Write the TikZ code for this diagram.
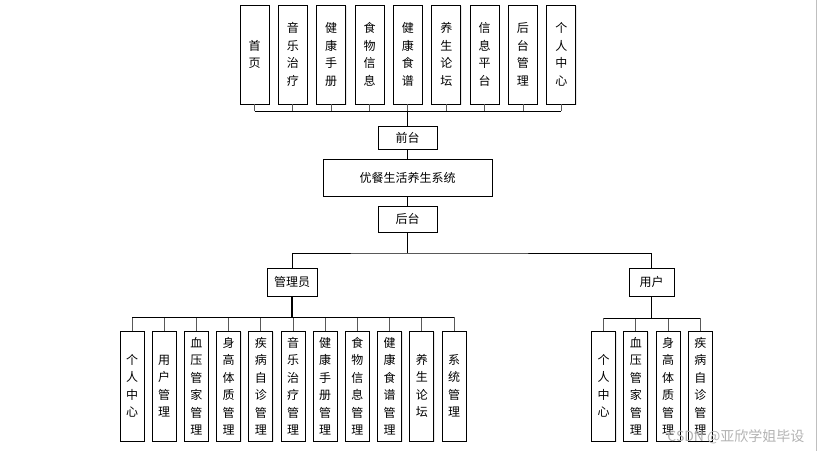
\documentclass[tikz,border=0pt]{standalone}
\usepackage{fontspec}
\setmainfont{Noto Sans CJK SC}
\usetikzlibrary{shadows}
\tikzset{
  box/.style={draw, fill=white, line width=0.8pt, inner sep=0pt, align=center,
    font=\fontsize{12}{17.5}\selectfont,
    drop shadow={shadow xshift=1pt, shadow yshift=-1pt, fill=black!18}},
  tallbox/.style={box, minimum width=29pt, minimum height=99pt},
  subbox/.style={box, minimum width=24pt, minimum height=110pt},
  branch/.style={draw=black!65, line width=0.9pt},
  bus/.style={line width=0.9pt},
  trunk/.style={line width=1.6pt},
}
\begin{document}
\begin{tikzpicture}[x=1pt,y=-1pt]
  %%%%% FRAME %%%%%
  \useasboundingbox (0,0) rectangle (818,451);
  \draw[black!25, line width=0.8pt] (816,0) -- (816,451);

  %%%%% FRONT %%%%%
  \foreach \lbl [count=\i from 0] in {首\\页, 音\\乐\\治\\疗, 健\\康\\手\\册, 食\\物\\信\\息,
      健\\康\\食\\谱, 养\\生\\论\\坛, 信\\息\\平\\台, 后\\台\\管\\理, 个\\人\\中\\心}
    \node[tallbox] (t\i) at (254.5+38.35*\i, 54.5) {\lbl};
  \node[box, minimum width=59pt, minimum height=23pt] (front) at (407.5,137.5) {前台};
  \node[box, minimum width=169pt, minimum height=37pt] (sys) at (407.5,177.5) {优餐生活养生系统};
  \node[box, minimum width=59pt, minimum height=26pt] (back) at (407.5,219) {后台};

  \coordinate (tb) at (407.5,111);
  \foreach \i in {0,...,8}
    \draw[branch] (t\i.south) -- (t\i.south |- tb);
  \draw[bus] (t0.south |- tb) -- (t8.south |- tb);
  \draw[trunk] (tb) -- (front.north);
  \draw[bus] (front) -- (sys);
  \draw[bus] (sys) -- (back);

  %%%%% BACK %%%%%
  \node[box, minimum width=50pt, minimum height=28pt] (admin) at (292,282) {管理员};
  \node[box, minimum width=45pt, minimum height=28pt] (user) at (651.5,282) {用户};
  \coordinate (bb) at (407.5,253);
  \draw[bus] (back) -- (bb);
  \draw[bus] (admin.north) |- (bb) -| (user.north);

  %%%%% ADMIN %%%%%
  \foreach \lbl [count=\i from 0] in {个\\人\\中\\心, 用\\户\\管\\理, 血\\压\\管\\家\\管\\理,
      身\\高\\体\\质\\管\\理, 疾\\病\\自\\诊\\管\\理, 音\\乐\\治\\疗\\管\\理, 健\\康\\手\\册\\管\\理,
      食\\物\\信\\息\\管\\理, 健\\康\\食\\谱\\管\\理, 养\\生\\论\\坛, 系\\统\\管\\理}
    \node[subbox] (a\i) at (132+32.2*\i, 386) {\lbl};
  \coordinate (ab) at (292,317);
  \foreach \i in {0,...,10}
    \draw[branch] (a\i.north) -- (a\i.north |- ab);
  \draw[bus] (a0.north |- ab) -- (a10.north |- ab);
  \draw[trunk] (admin.south) -- (ab);

  %%%%% USER %%%%%
  \foreach \lbl [count=\i from 0] in {个\\人\\中\\心, 血\\压\\管\\家\\管\\理,
      身\\高\\体\\质\\管\\理, 疾\\病\\自\\诊\\管\\理}
    \node[subbox] (u\i) at (603.5+32.3*\i, 386) {\lbl};
  \coordinate (ub) at (651.5,318);
  \foreach \i in {0,...,3}
    \draw[branch] (u\i.north) -- (u\i.north |- ub);
  \draw[bus] (u0.north |- ub) -- (u3.north |- ub);
  \draw[trunk] (user.south) -- (ub);

  \node[text=black!30, font=\fontsize{14}{16}\selectfont, anchor=east] (mark) at (808,437) {CSDN @亚欣学姐毕设};
\end{tikzpicture}
\end{document}
